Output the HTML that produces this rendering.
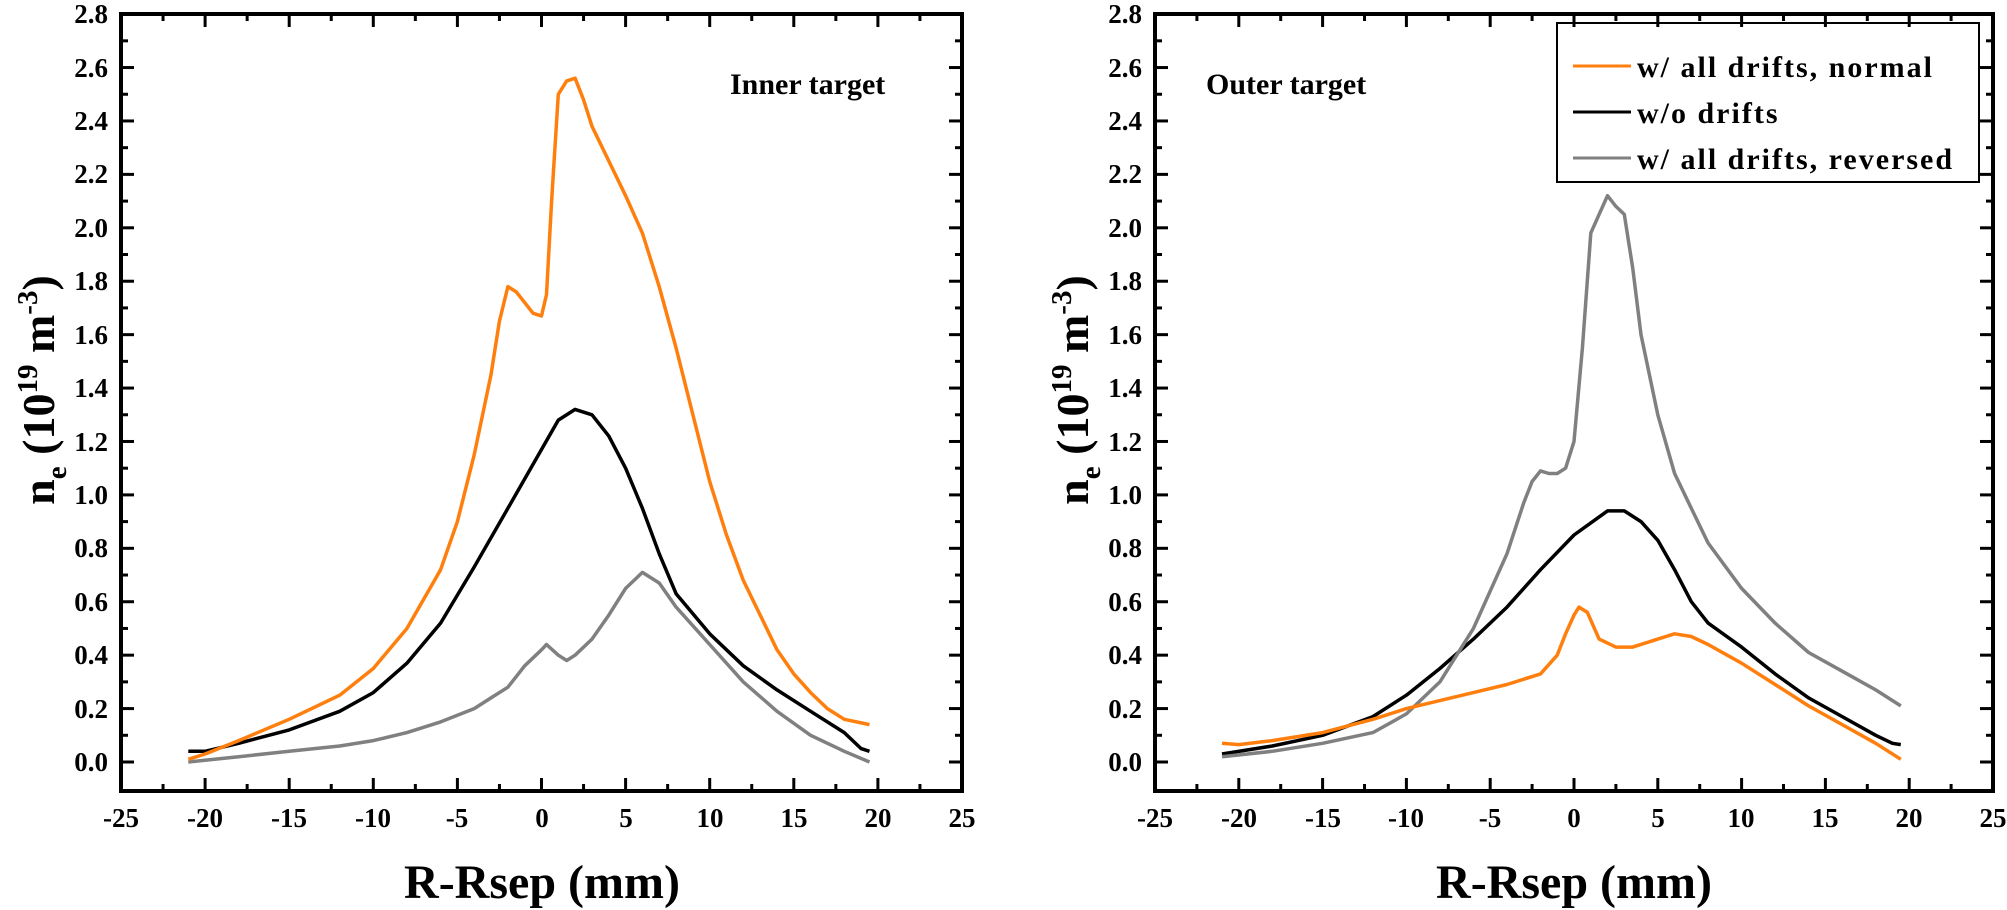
<!DOCTYPE html>
<html><head><meta charset="utf-8"><style>
body{margin:0;background:#fff}
svg{display:block}
text{font-family:"Liberation Serif",serif;font-weight:bold;fill:#000}
.t{font-size:27px}
</style></head><body>
<svg id="s" width="2007" height="910" xmlns="http://www.w3.org/2000/svg">
<g class="t" text-anchor="end">
<text x="108" y="771">0.0</text><text x="108" y="718">0.2</text><text x="108" y="664">0.4</text><text x="108" y="611">0.6</text><text x="108" y="557">0.8</text><text x="108" y="504">1.0</text><text x="108" y="451">1.2</text><text x="108" y="397">1.4</text><text x="108" y="344">1.6</text><text x="108" y="290">1.8</text><text x="108" y="237">2.0</text><text x="108" y="183">2.2</text><text x="108" y="130">2.4</text><text x="108" y="77">2.6</text><text x="108" y="23">2.8</text>
<text x="1142" y="771">0.0</text><text x="1142" y="718">0.2</text><text x="1142" y="664">0.4</text><text x="1142" y="611">0.6</text><text x="1142" y="557">0.8</text><text x="1142" y="504">1.0</text><text x="1142" y="451">1.2</text><text x="1142" y="397">1.4</text><text x="1142" y="344">1.6</text><text x="1142" y="290">1.8</text><text x="1142" y="237">2.0</text><text x="1142" y="183">2.2</text><text x="1142" y="130">2.4</text><text x="1142" y="77">2.6</text><text x="1142" y="23">2.8</text>
</g>
<g class="t" text-anchor="middle">
<text x="121" y="827">-25</text><text x="205" y="827">-20</text><text x="289" y="827">-15</text><text x="373" y="827">-10</text><text x="457" y="827">-5</text><text x="542" y="827">0</text><text x="626" y="827">5</text><text x="710" y="827">10</text><text x="794" y="827">15</text><text x="878" y="827">20</text><text x="962" y="827">25</text>
<text x="1155" y="827">-25</text><text x="1239" y="827">-20</text><text x="1323" y="827">-15</text><text x="1406" y="827">-10</text><text x="1490" y="827">-5</text><text x="1574" y="827">0</text><text x="1658" y="827">5</text><text x="1741" y="827">10</text><text x="1825" y="827">15</text><text x="1909" y="827">20</text><text x="1993" y="827">25</text>
</g>
<text x="542" y="898" font-size="48" text-anchor="middle">R-Rsep (mm)</text>
<text x="1574" y="898" font-size="48" text-anchor="middle">R-Rsep (mm)</text>
<text transform="translate(54,390) rotate(-90)" font-size="46" text-anchor="middle">n<tspan font-size="29" dy="12">e</tspan><tspan dy="-12"> (10</tspan><tspan font-size="29" dy="-17">19</tspan><tspan dy="17"> m</tspan><tspan font-size="29" dy="-17">-3</tspan><tspan dy="17">)</tspan></text>
<text transform="translate(1088,390) rotate(-90)" font-size="46" text-anchor="middle">n<tspan font-size="29" dy="12">e</tspan><tspan dy="-12"> (10</tspan><tspan font-size="29" dy="-17">19</tspan><tspan dy="17"> m</tspan><tspan font-size="29" dy="-17">-3</tspan><tspan dy="17">)</tspan></text>
<text x="730" y="94" font-size="30">Inner target</text>
<text x="1206" y="94" font-size="30">Outer target</text>
<rect x="1557" y="23" width="422" height="159" fill="#fff" stroke="#000" stroke-width="2"/>
<line x1="1573" y1="66" x2="1631" y2="66" stroke="#ff7f0e" stroke-width="3"/>
<line x1="1573" y1="112" x2="1631" y2="112" stroke="#000" stroke-width="3"/>
<line x1="1573" y1="158" x2="1631" y2="158" stroke="#808080" stroke-width="3"/>
<g font-size="30" letter-spacing="2">
<text x="1637" y="77">w/ all drifts, normal</text>
<text x="1637" y="123">w/o drifts</text>
<text x="1637" y="169">w/ all drifts, reversed</text>
</g>
<g id="g"></g>
</svg>
<script>
var g=document.getElementById('g'),NS='http://www.w3.org/2000/svg';
function el(n,a){var e=document.createElementNS(NS,n);for(var k in a)e.setAttribute(k,a[k]);g.appendChild(e);}
var Y0=762,YS=267.1;
function axes(L,R){var sx=(R-L)/50;
 el('rect',{x:L,y:14,width:R-L,height:Y0+29-14,fill:'none',stroke:'#000','stroke-width':4});
 for(var i=0;i<=20;i++){var x=L+i*2.5*sx,len=i%2?7:13;
  el('line',{x1:x,y1:791,x2:x,y2:791-len,stroke:'#000','stroke-width':3});
  el('line',{x1:x,y1:14,x2:x,y2:14+len,stroke:'#000','stroke-width':3});}
 for(var j=0;j<=28;j++){var y=Y0-j*0.1*YS,len=j%2?7:13;
  el('line',{x1:L,y1:y,x2:L+len,y2:y,stroke:'#000','stroke-width':3});
  el('line',{x1:R,y1:y,x2:R-len,y2:y,stroke:'#000','stroke-width':3});}
}
function line(L,R,d,c){var sx=(R-L)/50,p=[];for(var i=0;i<d.length;i+=2)p.push((L+(d[i]+25)*sx).toFixed(1)+','+(Y0-d[i+1]*YS).toFixed(1));
 el('polyline',{points:p.join(' '),fill:'none',stroke:c,'stroke-width':3.5,'stroke-linejoin':'round'});}
axes(121,962);axes(1155,1993);
var O='#ff7f0e',K='#000',G='#808080';
line(121,962,[-21,0.04,-20,0.04,-18,0.07,-15,0.12,-12,0.19,-10,0.26,-8,0.37,-6,0.52,-4,0.73,-2,0.95,0,1.17,1,1.28,2,1.32,3,1.3,4,1.22,5,1.1,6,0.95,7,0.78,8,0.63,10,0.48,11,0.42,12,0.36,14,0.27,16,0.19,18,0.11,19,0.05,19.5,0.04],K);
line(121,962,[-21,0,-18,0.02,-15,0.04,-12,0.06,-10,0.08,-8,0.11,-6,0.15,-4,0.2,-3,0.24,-2,0.28,-1,0.36,0,0.42,0.3,0.44,1,0.4,1.5,0.38,2,0.4,3,0.46,4,0.55,5,0.65,6,0.71,7,0.67,8,0.58,10,0.44,12,0.3,14,0.19,16,0.1,18,0.04,19.5,0],G);
line(121,962,[-21,0.01,-20,0.03,-18,0.08,-15,0.16,-12,0.25,-10,0.35,-8,0.5,-6,0.72,-5,0.9,-4,1.15,-3,1.45,-2.5,1.65,-2,1.78,-1.5,1.76,-1,1.72,-0.5,1.68,0,1.67,0.3,1.75,0.6,2.1,1,2.5,1.5,2.55,2,2.56,2.5,2.48,3,2.38,4,2.25,5,2.12,6,1.98,7,1.78,8,1.55,9,1.3,10,1.05,11,0.85,12,0.68,13,0.55,14,0.42,15,0.33,16,0.26,17,0.2,18,0.16,19.5,0.14],O);
line(1155,1993,[-21,0.03,-18,0.06,-15,0.1,-12,0.17,-10,0.25,-8,0.35,-6,0.46,-4,0.58,-2,0.72,0,0.85,2,0.94,3,0.94,4,0.9,5,0.83,6,0.72,7,0.6,8,0.52,10,0.43,12,0.33,14,0.24,16,0.17,18,0.1,19,0.07,19.5,0.065],K);
line(1155,1993,[-21,0.02,-18,0.04,-15,0.07,-12,0.11,-10,0.18,-8,0.3,-6,0.5,-4,0.78,-3,0.97,-2.5,1.05,-2,1.09,-1.5,1.08,-1,1.08,-0.5,1.1,0,1.2,0.5,1.55,1,1.98,1.5,2.05,2,2.12,2.5,2.08,3,2.05,3.5,1.85,4,1.6,5,1.3,6,1.08,7,0.95,8,0.82,10,0.65,12,0.52,14,0.41,16,0.34,18,0.27,19.5,0.21],G);
line(1155,1993,[-21,0.07,-20,0.065,-18,0.08,-15,0.11,-12,0.16,-10,0.2,-8,0.23,-6,0.26,-4,0.29,-2,0.33,-1,0.4,-0.5,0.48,0,0.55,0.3,0.58,0.8,0.56,1.5,0.46,2.5,0.43,3.5,0.43,5,0.46,6,0.48,7,0.47,8,0.44,10,0.37,12,0.29,14,0.21,16,0.14,18,0.07,19.5,0.01],O);
</script>
</body></html>
